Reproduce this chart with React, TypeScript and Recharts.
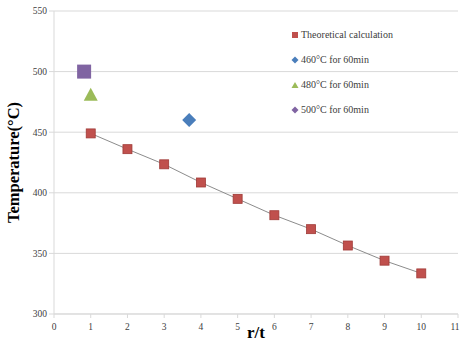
import React from 'react';
import { ComposedChart, Line, Scatter, XAxis, YAxis, CartesianGrid, Label } from 'recharts';

const rt = [1, 2, 3, 4, 5, 6, 7, 8, 9, 10];
const theoretical = [449, 436, 423.5, 408.5, 395, 381.5, 370, 356.5, 344, 333.5];
const exp460 = [{ x: 3.68, y: 460 }];
const exp480 = [{ x: 1.0, y: 480 }];
const exp500 = [{ x: 0.82, y: 500 }];
const xTicks = [0, 1, 2, 3, 4, 5, 6, 7, 8, 9, 10, 11];
const yTicks = [300, 350, 400, 450, 500, 550];

const theoData = rt.map((x, i) => ({ x, y: theoretical[i] }));

const FONT = '"Liberation Serif", "Times New Roman", serif';
const RED = '#c0504d';
const BLUE = '#4a7ebb';
const GREEN = '#9bbb59';
const PURPLE = '#8064a2';

const RedSquare = (p: any) => {
  if (p.cx == null) return null;
  return <rect x={p.cx - 4.5} y={p.cy - 4.5} width={9} height={9} fill={RED} stroke="#a03a37" strokeWidth={0.8} />;
};
const PurpleSquare = (p: any) => <rect x={p.cx - 7} y={p.cy - 7} width={14} height={14} fill={PURPLE} />;
const GreenTri = (p: any) => (
  <polygon points={`${p.cx},${p.cy - 8} ${p.cx + 7},${p.cy + 5} ${p.cx - 7},${p.cy + 5}`} fill={GREEN} />
);
const BlueDiamond = (p: any) => (
  <polygon points={`${p.cx},${p.cy - 7} ${p.cx + 7},${p.cy} ${p.cx},${p.cy + 7} ${p.cx - 7},${p.cy}`} fill={BLUE} />
);

const XTick = (p: any) => {
  const v = p.payload.value;
  const last = v === xTicks[xTicks.length - 1];
  return (
    <text
      x={last ? p.x - 3 : p.x}
      y={p.y + 10}
      textAnchor="middle"
      fontFamily={FONT}
      fontSize={9.5}
      fill="#404040"
    >
      {v}
    </text>
  );
};

const legendItems = [
  { label: 'Theoretical calculation', kind: 'square', color: RED },
  { label: '460°C for 60min', kind: 'diamond', color: BLUE },
  { label: '480°C for 60min', kind: 'triangle', color: GREEN },
  { label: '500°C for 60min', kind: 'diamond', color: PURPLE },
];

const LegendBox = () => (
  <div style={{ position: 'absolute', left: 291, top: 22, fontFamily: FONT, fontSize: 10, color: '#404040' }}>
    {legendItems.map((it) => (
      <div key={it.label} style={{ height: 25, display: 'flex', alignItems: 'center' }}>
        <svg width={8} height={8} style={{ marginRight: 2 }}>
          {it.kind === 'square' && <rect x={1} y={1} width={6} height={6} fill={it.color} />}
          {it.kind === 'diamond' && <polygon points="4,0.5 7.5,4 4,7.5 0.5,4" fill={it.color} />}
          {it.kind === 'triangle' && <polygon points="4,1 7.5,7 0.5,7" fill={it.color} />}
        </svg>
        <span>{it.label}</span>
      </div>
    ))}
  </div>
);

export default function App() {
  return (
    <div style={{ position: 'relative', width: 460, height: 341, background: '#fff' }}>
      <style>{'body{margin:0}'}</style>
      <ComposedChart width={460} height={341} margin={{ top: 11, right: 2, bottom: 7, left: 0 }}>
        <CartesianGrid horizontal vertical={false} stroke="#d9d9d9" />
        <XAxis
          type="number"
          dataKey="x"
          domain={[0, 11]}
          ticks={xTicks}
          interval={0}
          allowDataOverflow
          height={20}
          stroke="#d9d9d9"
          tickSize={4}
          tick={<XTick />}
        >
          <Label value="r/t" position="insideBottom" offset={-4} style={{ fontFamily: FONT, fontSize: 17, fontWeight: 'bold', fill: '#000' }} />
        </XAxis>
        <YAxis
          type="number"
          dataKey="y"
          domain={[300, 550]}
          ticks={yTicks}
          interval={0}
          width={54}
          stroke="#d9d9d9"
          tickSize={5}
          tick={{ fontFamily: FONT, fontSize: 9.5, fill: '#404040' }}
        >
          <Label
            value="Temperature(°C)"
            angle={-90}
            position="insideLeft"
            offset={13}
            style={{ textAnchor: 'middle', fontFamily: FONT, fontSize: 16.5, fontWeight: 'bold', fill: '#000' }}
          />
        </YAxis>
        <Line
          data={theoData}
          dataKey="y"
          type="linear"
          stroke="#8c8c8c"
          strokeWidth={1}
          dot={<RedSquare />}
          activeDot={false}
          isAnimationActive={false}
          legendType="none"
        />
        <Scatter data={exp460} dataKey="y" shape={<BlueDiamond />} isAnimationActive={false} />
        <Scatter data={exp480} dataKey="y" shape={<GreenTri />} isAnimationActive={false} />
        <Scatter data={exp500} dataKey="y" shape={<PurpleSquare />} isAnimationActive={false} />
      </ComposedChart>
      <LegendBox />
    </div>
  );
}
